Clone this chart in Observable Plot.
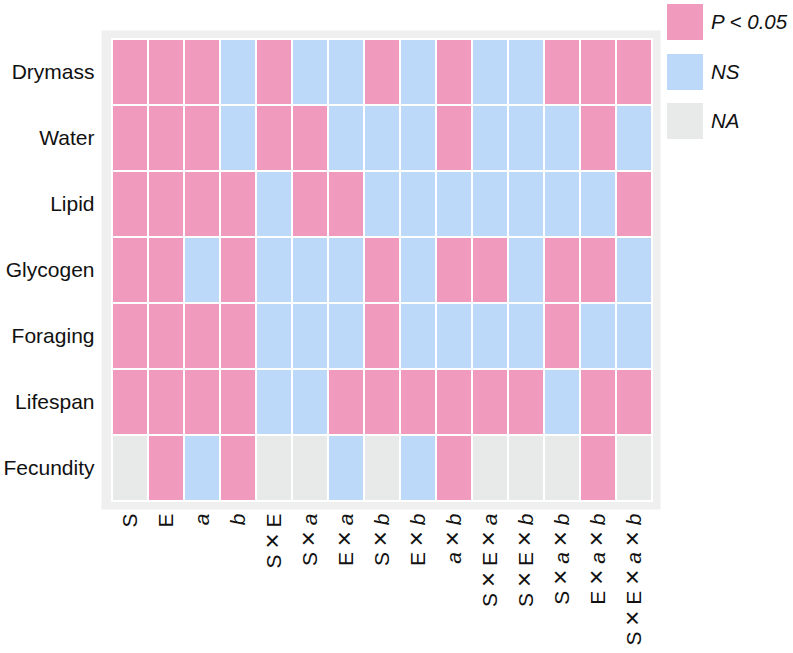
<!DOCTYPE html>
<html>
<head>
<meta charset="utf-8">
<script src="https://cdn.jsdelivr.net/npm/d3@7"></script>
<script src="https://cdn.jsdelivr.net/npm/@observablehq/plot@0.6"></script>
<style>
  body { margin: 0; background: white; }
  #wrap { position: relative; width: 793px; height: 653px; font-family: "Liberation Sans", Arial, sans-serif; }
  #chart { position: absolute; left: 0; top: 0; }
  .lg { position: absolute; left: 667px; display: flex; align-items: center; }
  .sw { width: 36px; height: 36px; }
  .lt { margin-left: 8px; font-size: 20.5px; font-style: italic; color: #111; }
</style>
</head>
<body>
<div id="wrap"><div id="chart"></div></div>
<script>
const effects = ["S","E","a","b","S × E","S × a","E × a","S × b","E × b","a × b","S × E × a","S × E × b","S × a × b","E × a × b","S × E × a × b"];
const traits = ["Drymass","Water","Lipid","Glycogen","Foraging","Lifespan","Fecundity"];
const drymass   = ["P","P","P","NS","P","NS","NS","P","NS","P","NS","NS","P","P","P"];
const water     = ["P","P","P","NS","P","P","NS","NS","NS","P","NS","NS","NS","P","NS"];
const lipid     = ["P","P","P","P","NS","P","P","NS","NS","NS","NS","NS","NS","NS","P"];
const glycogen  = ["P","P","NS","P","NS","NS","NS","P","NS","P","P","NS","P","P","NS"];
const foraging  = ["P","P","P","P","NS","NS","NS","P","NS","NS","NS","NS","P","NS","NS"];
const lifespan  = ["P","P","P","P","NS","NS","P","P","P","P","P","P","NS","P","P"];
const fecundity = ["NA","P","NS","P","NA","NA","NS","NA","NS","P","NA","NA","NA","P","NA"];
const legendKeys = ["P","NS","NA"];
const legendLabels = ["P < 0.05","NS","NA"];
const colors = ["#f09bbd","#bdd9fa","#e8eaea"];

const rows = [drymass, water, lipid, glycogen, foraging, lifespan, fecundity];
const data = [];
rows.forEach((r, i) => r.forEach((v, j) => data.push({trait: traits[i], effect: effects[j], sig: v})));

const chart = Plot.plot({
  width: 665,
  height: 653,
  marginLeft: 108,
  marginRight: 10,
  marginTop: 36,
  marginBottom: 150,
  style: {fontFamily: '"Liberation Sans", Arial, sans-serif', fontSize: "21px", color: "#111", background: "white"},
  x: {type: "band", domain: effects, padding: 0, label: null},
  y: {type: "band", domain: traits, padding: 0, label: null},
  color: {domain: legendKeys, range: colors},
  marks: [
    Plot.frame({fill: "#efefef", stroke: null, insetLeft: -7, insetRight: -5, insetTop: -6, insetBottom: -6}),
    Plot.cell(data, {x: "effect", y: "trait", fill: "sig", stroke: "white", strokeWidth: 2}),
    Plot.axisY({tickSize: 0, tickPadding: 14, fontSize: 21, label: null}),
    Plot.axisX({tickSize: 0, tickPadding: 10, tickRotate: -90, fontSize: 21, label: null})
  ]
});
document.getElementById("chart").appendChild(chart);

// italicize a and b, enlarge × in x tick labels
chart.querySelectorAll('[aria-label="x-axis tick label"] text').forEach(t => {
  const s = t.textContent;
  t.textContent = "";
  for (const ch of s) {
    const ts = document.createElementNS("http://www.w3.org/2000/svg", "tspan");
    ts.textContent = ch;
    if (ch === "a" || ch === "b") ts.setAttribute("font-style", "italic");
    if (ch === "×") ts.setAttribute("font-size", "26px");
    t.appendChild(ts);
  }
});

// legend
const tops = [4, 54, 103];
const wrap = document.getElementById("wrap");
legendKeys.forEach((k, i) => {
  const d = document.createElement("div");
  d.className = "lg";
  d.style.top = tops[i] + "px";
  const sw = document.createElement("div");
  sw.className = "sw";
  sw.style.background = colors[i];
  const lt = document.createElement("div");
  lt.className = "lt";
  lt.textContent = legendLabels[i];
  d.appendChild(sw); d.appendChild(lt);
  wrap.appendChild(d);
});
</script>
</body>
</html>
